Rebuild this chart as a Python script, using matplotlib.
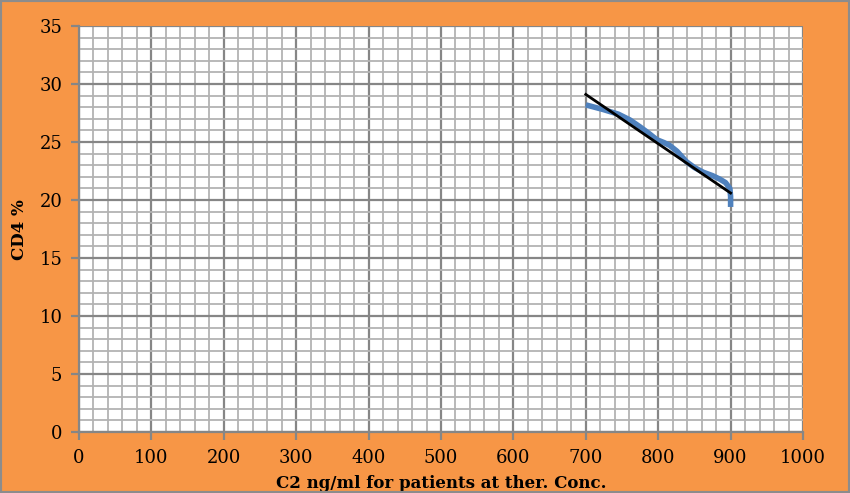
import matplotlib
matplotlib.use("Agg")
import matplotlib.pyplot as plt
from matplotlib.ticker import MultipleLocator

# Data
x_vals = [700, 724, 745, 761, 775, 788, 798, 808, 816, 826, 839, 850, 862, 875, 885, 893, 899, 900, 900]
y_vals = [28.2, 27.8, 27.4, 26.9, 26.3, 25.7, 25.2, 24.95, 24.7, 24.2, 23.3, 22.8, 22.4, 22.1, 21.8, 21.5, 21.0, 20.3, 19.4]
trend_x = [700, 900]
trend_y = [29.1, 20.6]

x_ticks = [0, 100, 200, 300, 400, 500, 600, 700, 800, 900, 1000]
y_ticks = [0, 5, 10, 15, 20, 25, 30, 35]

ORANGE = "#F79646"
fig = plt.figure(figsize=(8.5, 4.93), dpi=100, facecolor=ORANGE)
fig.patches.append(plt.Rectangle((0, 0), 1, 1, transform=fig.transFigure,
                                 fill=False, edgecolor="#8c8c8c", linewidth=3, zorder=10))
ax = fig.add_axes([79/850, 1-432/493, (803-79)/850, (432-26)/493])
ax.set_facecolor("white")

ax.set_xlim(0, 1000)
ax.set_ylim(0, 35)
ax.set_xticks(x_ticks)
ax.set_yticks(y_ticks)
ax.xaxis.set_minor_locator(MultipleLocator(20))
ax.yaxis.set_minor_locator(MultipleLocator(1))
ax.grid(which="minor", color="#b3b3b3", linewidth=1.3)
ax.grid(which="major", color="#868686", linewidth=1.6)
ax.set_axisbelow(True)
for s in ax.spines.values():
    s.set_visible(False)
ax.spines["left"].set_visible(True)
ax.spines["bottom"].set_visible(True)
ax.spines["left"].set_color("#868686")
ax.spines["bottom"].set_color("#868686")
ax.spines["left"].set_linewidth(1.6)
ax.spines["bottom"].set_linewidth(1.6)
ax.tick_params(which="major", length=6, width=1.6, color="#868686",
               labelsize=13, pad=6)
ax.tick_params(which="minor", length=0)
for lab in ax.get_xticklabels() + ax.get_yticklabels():
    lab.set_fontfamily("DejaVu Serif")

ax.plot(x_vals, y_vals, color="#4F81BD", linewidth=4, solid_capstyle="butt", zorder=3)
ax.plot(trend_x, trend_y, color="black", linewidth=2, zorder=4)

ax.set_xlabel("C2 ng/ml for patients at ther. Conc.", fontfamily="DejaVu Serif",
              fontweight="bold", fontsize=12, labelpad=0)
ax.set_ylabel("CD4 %", fontfamily="DejaVu Serif", fontweight="bold", fontsize=12)
ax.xaxis.set_label_coords(0.5, -0.105)
ax.yaxis.set_label_coords(-51/724, 0.4975)

fig.savefig("out.png", dpi=100, facecolor=ORANGE)
